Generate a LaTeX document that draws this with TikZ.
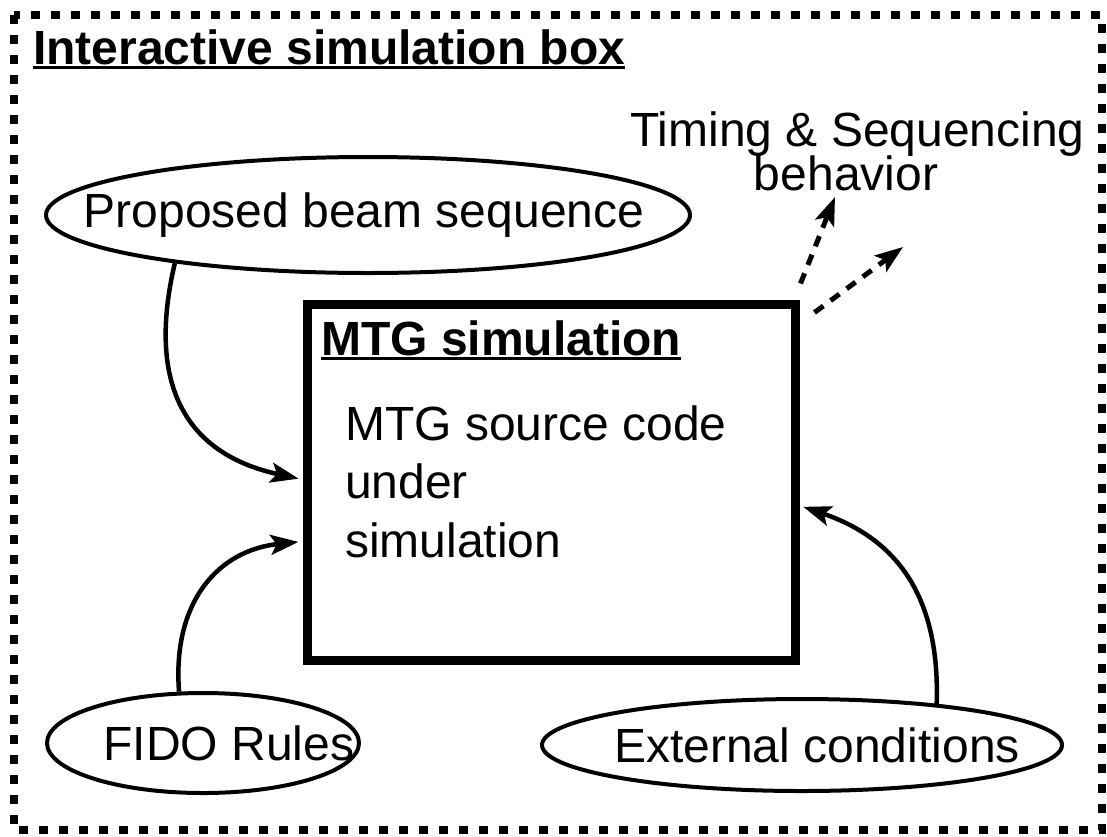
\documentclass[tikz,border=0pt]{standalone}
\usepackage{fontspec}
\setmainfont{Liberation Sans}
\usetikzlibrary{arrows.meta,shapes.geometric}
\newcommand\myul[1]{\setbox0\hbox{#1}\rlap{\rule[-5pt]{\wd0}{3.5pt}}\box0}
\begin{document}
\begin{tikzpicture}[x=1pt,y=-1pt,
  txt/.style={font=\fontsize{48}{58.5}\selectfont, inner sep=0pt},
  oval/.style={draw, line width=4pt, ellipse, inner sep=0pt, font=\fontsize{48}{56}\selectfont},
  flow/.style={line width=4.5pt, -{Stealth[length=28pt,width=20pt,inset=6pt]}, shorten >=4pt},
  outflow/.style={line width=5pt, dash pattern=on 11pt off 9pt, -{Stealth[length=28pt,width=20pt,inset=6pt]}},
]
\useasboundingbox (0,0) rectangle (1107,836);
% outer dashed frame
\draw[line width=7.5pt, dash pattern=on 9pt off 11pt] (14,15) rectangle (1102,830);
\node[txt, anchor=base west, font=\fontsize{48}{56}\selectfont\bfseries] (title) at (33,64) {\myul{Interactive simulation box}};

% timing text
\node[txt, anchor=base west] (timing) at (630,146) {Timing \& Sequencing};
\node[txt, anchor=base] (behav) at (846,190) {behavior};

% ellipses
\node[oval, minimum width=644pt, minimum height=116pt] (prop) at (368,215) {\makebox[0pt]{\hspace*{-8pt}Proposed beam sequence}};
\node[oval, minimum width=312pt, minimum height=100pt] (fido) at (203,743) {\makebox[0pt]{\hspace*{52pt}FIDO Rules}};
\node[oval, minimum width=520pt, minimum height=92pt] (ext) at (802,745) {\makebox[0pt]{\hspace*{30pt}External conditions}};

% MTG box
\node[draw, line width=9pt, minimum width=488pt, minimum height=356pt, inner sep=0pt] (box) at (551,482) {};
\node[txt, anchor=base west, font=\fontsize{48}{56}\selectfont\bfseries] (mtgt) at (321,355) {\myul{MTG simulation}};
\node[txt, anchor=base west, align=left] (code) at (345,557) {MTG source code\\under\\simulation};

% connectors
\draw[flow] (prop.194) .. controls (145,390) and (190,455) .. ([yshift=-180pt]box.north west);
\draw[flow] (fido.115) .. controls (172,600) and (220,550) .. ([yshift=-242pt]box.north west);
\draw[flow] (ext.17) .. controls (940,600) and (900,540) .. ([yshift=-206pt]box.north east);

\coordinate (ta) at (835,197);
\coordinate (tb) at (903,247);
\draw[outflow] ([xshift=1pt,yshift=16pt]box.north east) -- (ta);
\draw[outflow] ([xshift=15pt,yshift=-13pt]box.north east) -- (tb);
\end{tikzpicture}
\end{document}
